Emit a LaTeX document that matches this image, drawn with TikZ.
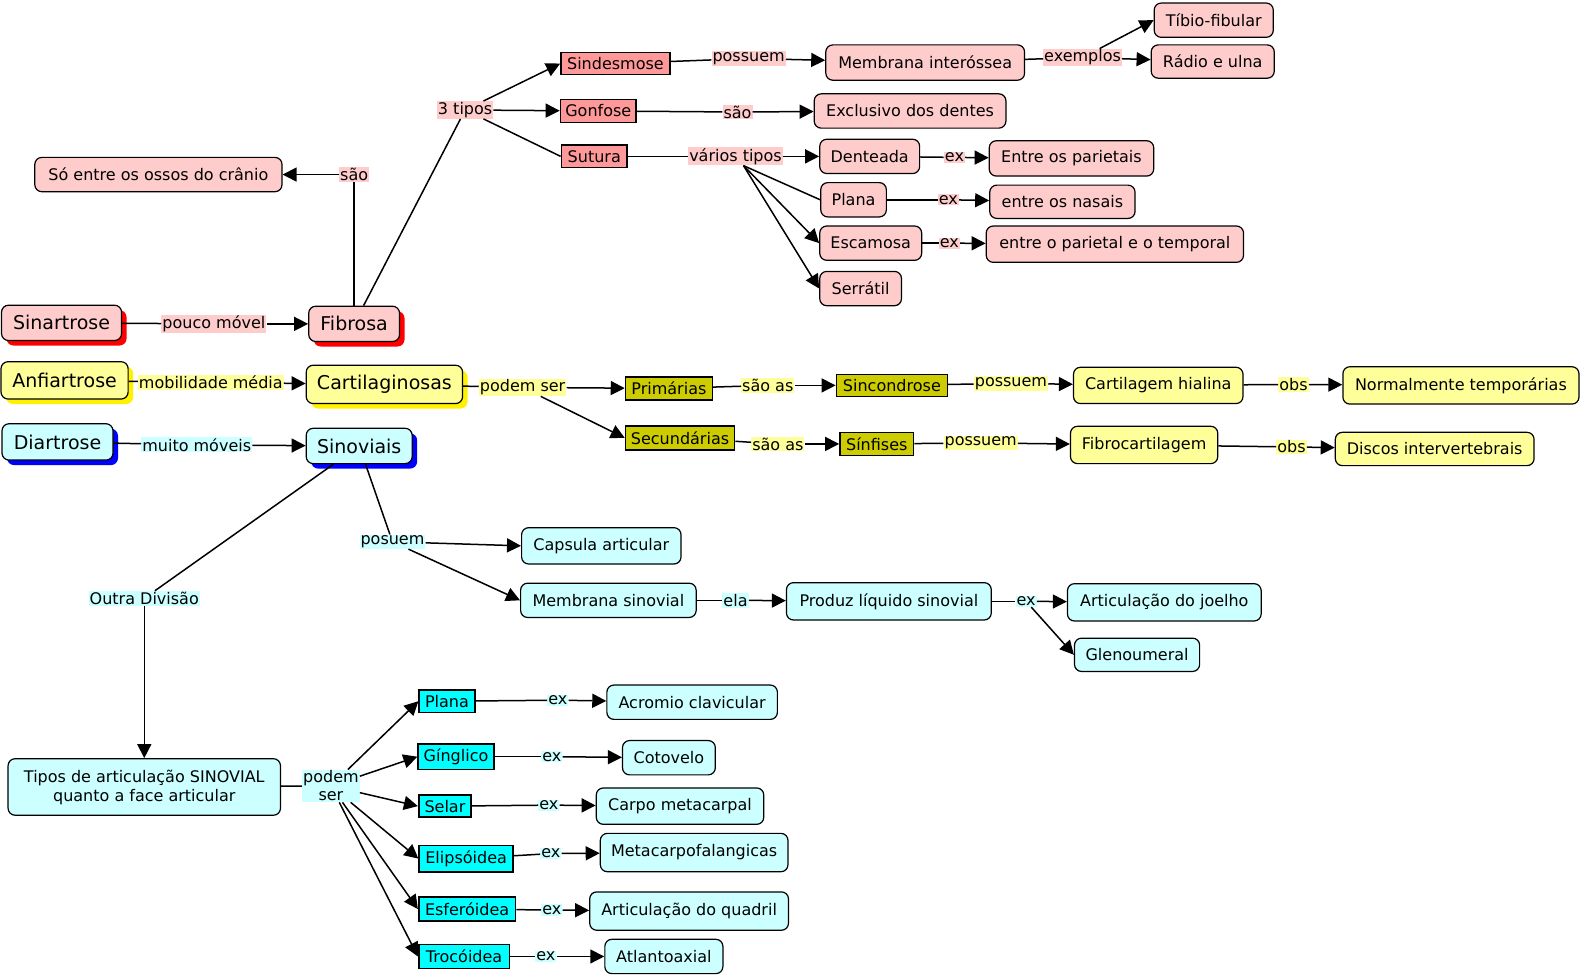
\documentclass[tikz,border=0pt]{standalone}
\usepackage{fontspec}
\setmainfont{DejaVu Sans}
\usetikzlibrary{arrows.meta,shadows}
\definecolor{pkf}{HTML}{FFCCCC}
\definecolor{pkd}{HTML}{FF9999}
\definecolor{ylf}{HTML}{FFFF99}
\definecolor{yld}{HTML}{CCCC00}
\definecolor{cyf}{HTML}{CCFFFF}
\definecolor{cyd}{HTML}{00FFFF}
\begin{document}
\begin{tikzpicture}[x=1.0089pt,y=-1.0089pt,
  base/.style={font=\fontsize{16}{19}\selectfont, inner sep=0pt, text=black, draw=black, line width=1.2pt, align=center},
  rbox/.style={base, rounded corners=7pt},
  sbox/.style={base, line width=1.6pt},
  big/.style={font=\fontsize{19}{22}\selectfont},
  wh/.style 2 args={minimum width=#1*1.0089pt, minimum height=#2*1.0089pt},
  sh/.style={drop shadow={shadow xshift=5pt, shadow yshift=-5pt, fill=#1, opacity=1, draw=none}},
  pk/.style={rbox, fill=pkf},
  pkr/.style={sbox, fill=pkd},
  yl/.style={rbox, fill=ylf},
  ylr/.style={sbox, fill=yld},
  cy/.style={rbox, fill=cyf},
  cyr/.style={sbox, fill=cyd},
  lab/.style={font=\fontsize{16}{18}\selectfont, inner sep=1pt, text=black, align=center},
  pl/.style={lab, fill=pkf},
  yll/.style={lab, fill=ylf},
  cyl/.style={lab, fill=cyf},
  ln/.style={draw=black, line width=1.5pt},
  ar/.style={ln, -{Triangle[length=14pt,width=14pt]}}
]
\useasboundingbox (0,0) rectangle (1568,969);

% ---------- pink (Fibrosa) ----------
\node[pk, wh={118}{34}] (tib) at (1203,20) {Tíbio-fibular};
\node[pk, wh={122}{33}] (rad) at (1202,61) {Rádio e ulna};
\node[pkr, wh={108}{22}] (sind) at (610,63) {Sindesmose};
\node[pk, wh={197}{35}] (memb) at (917,62) {Membrana interóssea};
\node[pkr, wh={75}{23}] (gonf) at (593,110) {Gonfose};
\node[pk, wh={190}{34}] (excl) at (902,110) {Exclusivo dos dentes};
\node[pkr, wh={65}{22}] (sut) at (589,155) {Sutura};
\node[pk, wh={99}{34}] (dent) at (862,155) {Denteada};
\node[pk, wh={163}{35}] (ent1) at (1062,157) {Entre os parietais};
\node[pk, wh={65}{34}] (plp) at (846,198) {Plana};
\node[pk, wh={144}{33}] (ent2) at (1053,200) {entre os nasais};
\node[pk, wh={101}{34}] (esc) at (863,241) {Escamosa};
\node[pk, wh={255}{36}] (ent3) at (1105,242) {entre o parietal e o temporal};
\node[pk, wh={81}{34}] (ser) at (853,286) {Serrátil};
\node[pk, wh={245}{34}] (so) at (157,173) {Só entre os ossos do crânio};
\node[pk, big, sh=red, wh={119}{35}] (sin) at (61,320) {Sinartrose};
\node[pk, big, sh=red, wh={90}{35}] (fib) at (351,321) {Fibrosa};

\node[pl] (lpos1) at (742,58) {possuem};
\node[pl] (lex1) at (1073,57) {exemplos};
\node[pl] (l3t) at (461,109) {3 tipos};
\node[pl] (lsao1) at (731,111) {são};
\node[pl] (lvt) at (729,155) {vários tipos};
\node[pl] (lex2) at (946,156) {ex};
\node[pl] (lex3) at (940,198) {ex};
\node[pl] (lex4) at (941,241) {ex};
\node[pl] (lsao2) at (351,173) {são};
\node[pl] (lpm) at (212,321) {pouco móvel};

\draw[ln] (fib) -- (lsao2); \draw[ar] (lsao2) -- (so);
\draw[ln] (fib) -- (l3t);
\draw[ar] (l3t) -- (sind.west); \draw[ar] (l3t) -- (gonf); \draw[ln] (l3t) -- (sut.west);
\draw[ln] (sind) -- (lpos1); \draw[ar] (lpos1) -- (memb);
\draw[ln] (memb) -- (lex1); \draw[ar] (lex1) -- (tib.west); \draw[ar] (lex1) -- (rad);
\draw[ln] (gonf) -- (lsao1); \draw[ar] (lsao1) -- (excl);
\draw[ln] (sut) -- (lvt); \draw[ar] (lvt) -- (dent);
\draw[ln] ([xshift=8pt]lvt.south) -- (plp.west);
\draw[ar] ([xshift=8pt]lvt.south) -- (esc.west);
\draw[ar] ([xshift=8pt]lvt.south) -- (ser.west);
\draw[ln] (dent) -- (lex2); \draw[ar] (lex2) -- (ent1);
\draw[ln] (plp) -- (lex3); \draw[ar] (lex3) -- (ent2);
\draw[ln] (esc) -- (lex4); \draw[ar] (lex4) -- (ent3);
\draw[ln] (sin) -- (lpm); \draw[ar] (lpm) -- (fib);

% ---------- yellow (Cartilaginosas) ----------
\node[yl, big, sh=yellow, wh={126}{37}] (anf) at (64,377) {Anfiartrose};
\node[yl, big, sh=yellow, wh={155}{38}] (cart) at (381,381) {Cartilaginosas};
\node[ylr, wh={86}{23}] (prim) at (663,385) {Primárias};
\node[ylr, wh={108}{24}] (sec) at (674,434) {Secundárias};
\node[ylr, wh={110}{22}] (sinc) at (884,382) {Sincondrose};
\node[ylr, wh={73}{23}] (sinf) at (869,440) {Sínfises};
\node[yl, wh={168}{36}] (ch) at (1148,382) {Cartilagem hialina};
\node[yl, wh={234}{37}] (nt) at (1448,382) {Normalmente temporárias};
\node[yl, wh={146}{37}] (fc) at (1134,441) {Fibrocartilagem};
\node[yl, wh={197}{33}] (di) at (1422,445) {Discos intervertebrais};

\node[yll] (lmm) at (209,379) {mobilidade média};
\node[yll] (lps) at (518,384) {podem ser};
\node[yll] (lsa1) at (761,382) {são as};
\node[yll] (lsa2) at (771,440) {são as};
\node[yll] (lpo2) at (1002,380) {possuem};
\node[yll] (lpo3) at (972,439) {possuem};
\node[yll] (lobs1) at (1282,381) {obs};
\node[yll] (lobs2) at (1280,443) {obs};

\draw[ln] (anf) -- (lmm); \draw[ar] (lmm) -- (cart);
\draw[ln] (cart) -- (lps); \draw[ar] (lps) -- (prim); \draw[ar] (lps) -- (sec.west);
\draw[ln] (prim) -- (lsa1); \draw[ar] (lsa1) -- (sinc);
\draw[ln] (sinc) -- (lpo2); \draw[ar] (lpo2) -- (ch);
\draw[ln] (ch) -- (lobs1); \draw[ar] (lobs1) -- (nt);
\draw[ln] (sec) -- (lsa2); \draw[ar] (lsa2) -- (sinf);
\draw[ln] (sinf) -- (lpo3); \draw[ar] (lpo3) -- (fc);
\draw[ln] (fc) -- (lobs2); \draw[ar] (lobs2) -- (di);

% ---------- cyan (Sinoviais) ----------
\node[cy, big, sh=blue, wh={110}{36}] (dia) at (57,438) {Diartrose};
\node[cy, big, sh=blue, wh={105}{35}] (sinv) at (356,442) {Sinoviais};
\node[cy, wh={158}{36}] (cap) at (596,541) {Capsula articular};
\node[cy, wh={174}{34}] (msin) at (603,595) {Membrana sinovial};
\node[cy, wh={203}{37}] (prod) at (881,596) {Produz líquido sinovial};
\node[cy, wh={192}{37}] (joe) at (1154,597) {Articulação do joelho};
\node[cy, wh={124}{33}] (gle) at (1127,649) {Glenoumeral};
\node[cy, wh={270}{56}] (tipos) at (143,780) {Tipos de articulação SINOVIAL\\quanto a face articular};
\node[cyr, wh={55}{22}] (cpl) at (443,695) {Plana};
\node[cyr, wh={75}{25}] (cgi) at (452,750) {Gínglico};
\node[cyr, wh={52}{22}] (csel) at (441,799) {Selar};
\node[cyr, wh={93}{26}] (celi) at (462,851) {Elipsóidea};
\node[cyr, wh={96}{24}] (cesf) at (463,901) {Esferóidea};
\node[cyr, wh={90}{24}] (ctro) at (460,948) {Trocóidea};
\node[cy, wh={169}{34}] (acr) at (686,696) {Acromio clavicular};
\node[cy, wh={92}{34}] (cot) at (663,751) {Cotovelo};
\node[cy, wh={166}{36}] (carp) at (674,799) {Carpo metacarpal};
\node[cy, wh={186}{38}] (meta) at (688,845) {Metacarpofalangicas};
\node[cy, wh={197}{38}] (quad) at (683,903) {Articulação do quadril};
\node[cy, wh={117}{34}] (atl) at (658,948) {Atlantoaxial};

\node[cyl] (lmv) at (195,441) {muito móveis};
\node[cyl] (lpo) at (389,537) {posuem};
\node[cyl] (lod) at (143,593) {Outra Divisão};
\node[cyl] (lela) at (729,595) {ela};
\node[cyl] (lexj) at (1017,596) {ex};
\node[cyl] (lpod) at (328,779) {podem\\ser};
\node[cyl] (le1) at (553,694) {ex};
\node[cyl] (le2) at (547,750) {ex};
\node[cyl] (le3) at (544,798) {ex};
\node[cyl] (le4) at (546,846) {ex};
\node[cyl] (le5) at (547,902) {ex};
\node[cyl] (le6) at (541,948) {ex};

\draw[ln] (dia) -- (lmv); \draw[ar] (lmv) -- (sinv);
\draw[ln] (sinv) -- (lpo); \draw[ar] (lpo) -- (cap.west); \draw[ar] (lpo) -- (msin.west);
\draw[ln] (msin) -- (lela); \draw[ar] (lela) -- (prod);
\draw[ln] (prod) -- (lexj); \draw[ar] (lexj) -- (joe); \draw[ar] (lexj) -- (gle.west);
\draw[ln] (sinv) -- (lod); \draw[ar] (lod) -- (tipos);
\draw[ln] (tipos) -- (lpod);
\foreach \t in {cpl,cgi,csel,celi,cesf,ctro} \draw[ar] (lpod) -- (\t.west);
\draw[ln] (cpl) -- (le1); \draw[ar] (le1) -- (acr);
\draw[ln] (cgi) -- (le2); \draw[ar] (le2) -- (cot);
\draw[ln] (csel) -- (le3); \draw[ar] (le3) -- (carp);
\draw[ln] (celi) -- (le4); \draw[ar] (le4) -- (meta);
\draw[ln] (cesf) -- (le5); \draw[ar] (le5) -- (quad);
\draw[ln] (ctro) -- (le6); \draw[ar] (le6) -- (atl);
\end{tikzpicture}
\end{document}
